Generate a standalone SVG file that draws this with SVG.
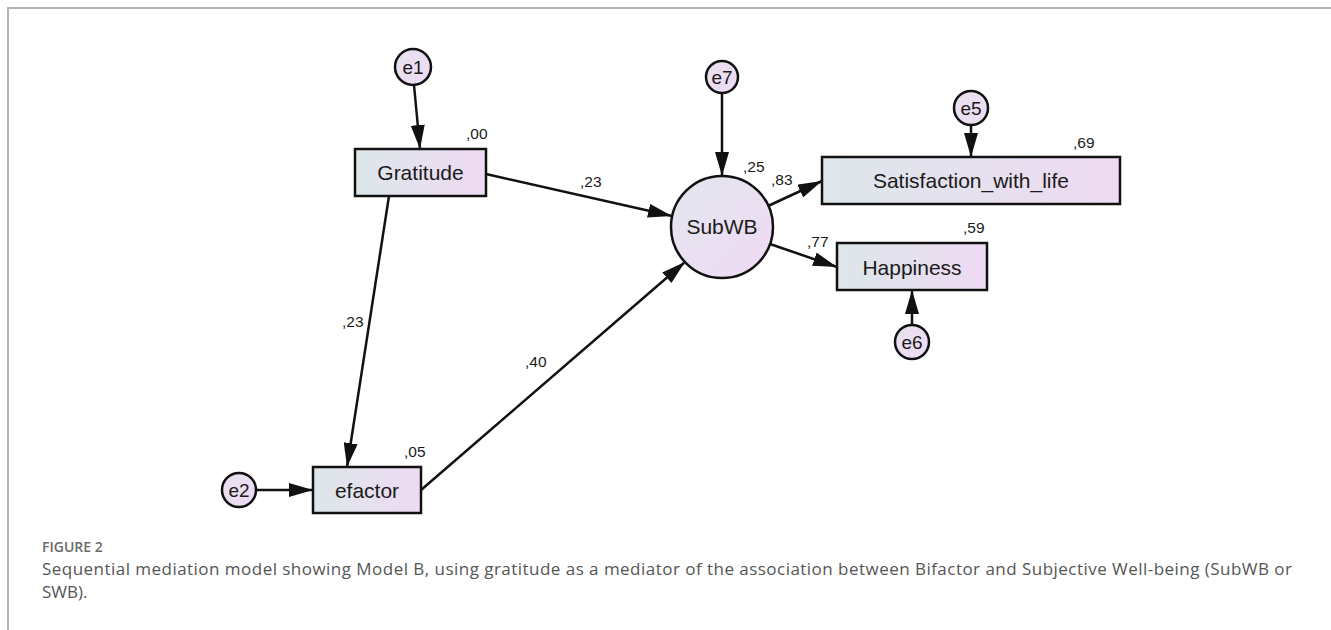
<svg xmlns="http://www.w3.org/2000/svg" width="1331" height="630" viewBox="0 0 1331 630">
<style>
.box{stroke:#111;stroke-width:2.5;fill:url(#gRect)}
.err{stroke:#111;stroke-width:2.5;fill:url(#gErr)}
.lat{stroke:#111;stroke-width:2.5;fill:url(#gLat)}
.lbl{font-family:"Liberation Sans",Arial,sans-serif;font-size:21px;fill:#1a1a1a;text-anchor:middle}
.elbl{font-family:"Liberation Sans",Arial,sans-serif;font-size:19px;fill:#1a1a1a;text-anchor:middle}
.coef{font-family:"Liberation Sans",Arial,sans-serif;font-size:15.5px;fill:#1a1a1a}
.edge{stroke:#111;stroke-width:2.5;fill:none;marker-end:url(#arr)}
.cap1{font-family:"Open Sans",sans-serif;font-size:14px;fill:#6a6a6a;font-weight:600}
.cap2{font-family:"Open Sans",sans-serif;font-size:17px;fill:#555}
</style>
<defs>
<linearGradient id="gRect" x1="0" y1="0" x2="1" y2="0">
<stop offset="0" stop-color="#dde7ea"/>
<stop offset="1" stop-color="#efdaf3"/>
</linearGradient>
<linearGradient id="gLat" x1="0" y1="0" x2="1" y2="1">
<stop offset="0" stop-color="#e2e6ee"/>
<stop offset="1" stop-color="#f0daf4"/>
</linearGradient>
<linearGradient id="gErr" x1="0" y1="0" x2="1" y2="1">
<stop offset="0" stop-color="#e6e2ef"/>
<stop offset="1" stop-color="#efdaf3"/>
</linearGradient>
<marker id="arr" markerUnits="userSpaceOnUse" markerWidth="24" markerHeight="14" refX="24" refY="7" orient="auto">
<path d="M0,0 L24,7 L0,14 z" fill="#111"/>
</marker>
</defs>
<rect width="1331" height="630" fill="#fff"/>
<path d="M8,630 V8 H1331" fill="none" stroke="#b4b4b4" stroke-width="2"/>

<g id="connectors">
<line class="edge" x1="414" y1="85" x2="420" y2="149"/>
<line class="edge" x1="722" y1="93" x2="722" y2="176"/>
<line class="edge" x1="971" y1="125" x2="971" y2="157"/>
<line class="edge" x1="912" y1="325" x2="912" y2="290"/>
<line class="edge" x1="256" y1="490" x2="313" y2="490"/>
<line class="edge" x1="486" y1="174" x2="672" y2="216"/>
<line class="edge" x1="389" y1="196" x2="347" y2="467"/>
<line class="edge" x1="421" y1="490" x2="685" y2="262"/>
<line class="edge" x1="768" y1="206" x2="822" y2="181"/>
<line class="edge" x1="770" y1="244" x2="837" y2="267"/>
<text class="coef" x="580" y="187">,23</text>
<text class="coef" x="342" y="327">,23</text>
<text class="coef" x="525" y="367">,40</text>
<text class="coef" x="771" y="185">,83</text>
<text class="coef" x="807" y="247">,77</text>
</g>

<g id="e1"><circle class="err" cx="413" cy="67" r="18"/><text class="elbl" x="413" y="74">e1</text></g>
<g id="e2"><circle class="err" cx="239" cy="490" r="17"/><text class="elbl" x="239" y="497">e2</text></g>
<g id="e5"><circle class="err" cx="971" cy="108" r="17"/><text class="elbl" x="971" y="115">e5</text></g>
<g id="e6"><circle class="err" cx="912" cy="342" r="17"/><text class="elbl" x="912" y="349">e6</text></g>
<g id="e7"><circle class="err" cx="722" cy="77" r="16"/><text class="elbl" x="722" y="84">e7</text></g>

<g id="gratitude"><rect class="box" x="355" y="149" width="131" height="47"/><text class="lbl" x="420.5" y="180">Gratitude</text><text class="coef" x="466" y="139">,00</text></g>
<g id="efactor"><rect class="box" x="313" y="467" width="108" height="46"/><text class="lbl" x="367" y="498">efactor</text><text class="coef" x="404" y="457">,05</text></g>
<g id="subwb"><circle class="lat" cx="722" cy="227" r="51"/><text class="lbl" x="722" y="234">SubWB</text><text class="coef" x="743" y="172">,25</text></g>
<g id="satisfaction"><rect class="box" x="822" y="157" width="298" height="47"/><text class="lbl" x="971" y="188">Satisfaction_with_life</text><text class="coef" x="1073" y="148">,69</text></g>
<g id="happiness"><rect class="box" x="837" y="243" width="150" height="47"/><text class="lbl" x="912" y="275">Happiness</text><text class="coef" x="963" y="233">,59</text></g>

<g id="caption">
<text class="cap1" x="42" y="552">FIGURE 2</text>
<text class="cap2" x="42" y="575" textLength="1250" lengthAdjust="spacing">Sequential mediation model showing Model B, using gratitude as a mediator of the association between Bifactor and Subjective Well-being (SubWB or</text>
<text class="cap2" x="42" y="598">SWB).</text>
</g>
</svg>
